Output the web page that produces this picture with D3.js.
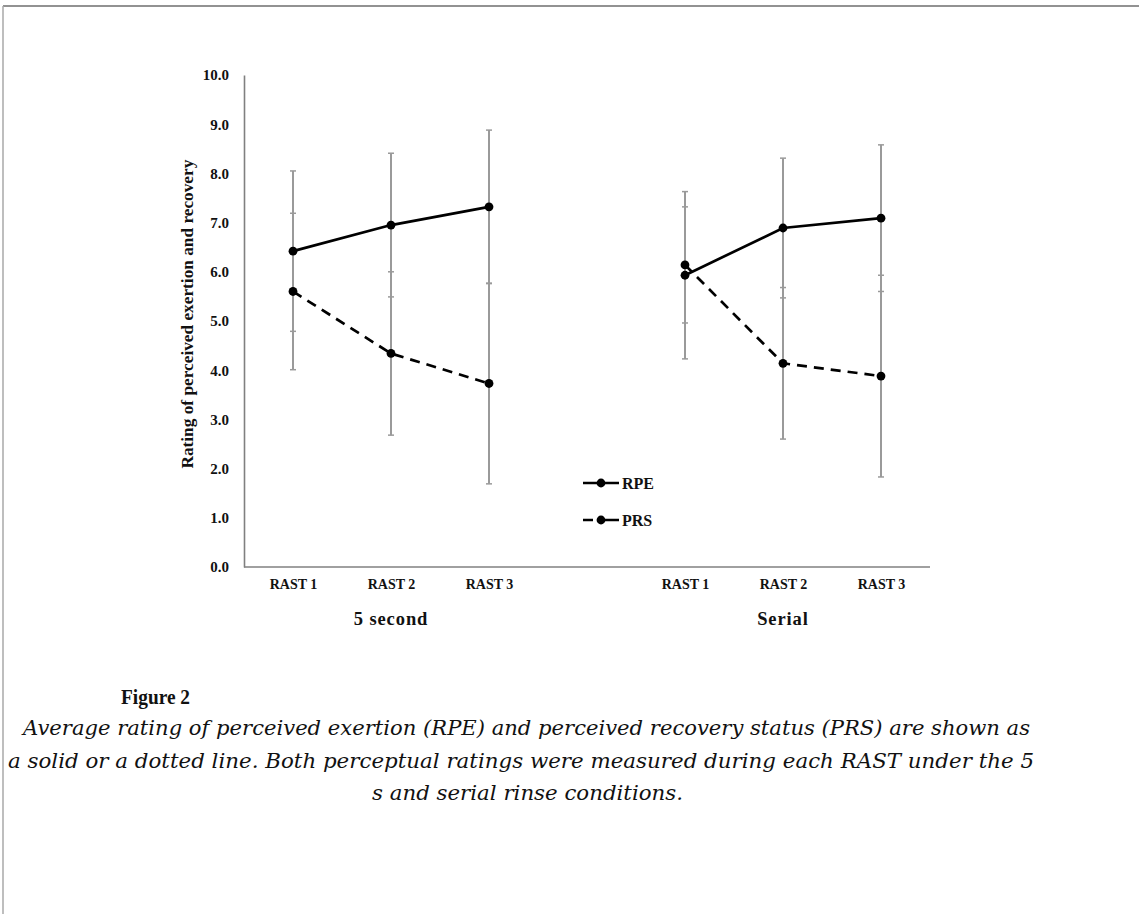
<!DOCTYPE html>
<html>
<head>
<meta charset="utf-8">
<script src="https://cdn.jsdelivr.net/npm/d3@7"></script>
<style>
  body { margin: 0; background: #fff; }
  svg { display: block; }
  .lbl { font-family: "Liberation Serif", "Times New Roman", serif; font-weight: bold; fill: #111; }
</style>
</head>
<body>
<script>
// conditions and trials
var groups = ["5 second", "Serial"];
var trials = ["RAST 1", "RAST 2", "RAST 3"];
var yTicks = [0, 1, 2, 3, 4, 5, 6, 7, 8, 9, 10];

// means and SDs, order: 5 second R1-R3, Serial R1-R3
var rpeMean = [6.42, 6.95, 7.32, 5.93, 6.89, 7.09];
var rpeSd   = [1.63, 1.46, 1.56, 1.70, 1.42, 1.49];
var prsMean = [5.60, 4.34, 3.73, 6.14, 4.14, 3.88];
var prsSd   = [1.59, 1.66, 2.04, 1.18, 1.54, 2.05];

var W = 1139, H = 914;
var margin = {top: 75, left: 244, right: 209, bottom: 347};

var svg = d3.select("body").append("svg")
    .attr("width", W)
    .attr("height", H);

// page frame
svg.append("line").attr("x1", 3).attr("x2", W).attr("y1", 6).attr("y2", 6)
    .attr("stroke", "#6e6e6e").attr("stroke-width", 1.5);
svg.append("line").attr("x1", 3).attr("x2", 3).attr("y1", 6).attr("y2", H)
    .attr("stroke", "#a8a8a8").attr("stroke-width", 1.5);

// slot keys, with an empty slot between the two conditions
var slots = [];
groups.forEach(function(g, gi) {
  trials.forEach(function(t) { slots.push(g + "|" + t); });
  if (gi < groups.length - 1) slots.push("gap");
});

var x = d3.scalePoint()
    .domain(slots)
    .range([margin.left, W - margin.right])
    .padding(0.5);

var y = d3.scaleLinear()
    .domain([0, 10])
    .range([H - margin.bottom, margin.top]);

var keys = [];
groups.forEach(function(g) { trials.forEach(function(t) { keys.push(g + "|" + t); }); });

function rows(mean, sd) {
  return keys.map(function(k, i) { return {key: k, m: mean[i], sd: sd[i]}; });
}
var series = [
  {name: "RPE", data: rows(rpeMean, rpeSd), dash: null, legDash: null},
  {name: "PRS", data: rows(prsMean, prsSd), dash: "10,7", legDash: "10,6,30"}
];

// axes
var yAxis = svg.append("g")
    .attr("transform", "translate(" + margin.left + ",0)")
    .call(d3.axisLeft(y).tickValues(yTicks).tickFormat(d3.format(".1f")).tickSize(0).tickPadding(15));
yAxis.select(".domain").attr("stroke", "#808080").attr("stroke-width", 1.6);
yAxis.selectAll("text").attr("class", "lbl").style("font-size", "15px");

var xAxis = svg.append("g")
    .attr("transform", "translate(0," + y(0) + ")")
    .call(d3.axisBottom(x).tickSize(0).tickPadding(12)
      .tickFormat(function(d) { return d === "gap" ? "" : d.split("|")[1]; }));
xAxis.select(".domain").attr("stroke", "#808080").attr("stroke-width", 1.6)
    .attr("d", "M" + margin.left + ",0H" + (W - margin.right));
xAxis.selectAll("text").attr("class", "lbl").style("font-size", "14px");

// group labels under the middle trial
groups.forEach(function(g) {
  svg.append("text").attr("class", "lbl")
      .attr("x", x(g + "|" + trials[1]))
      .attr("y", 625)
      .attr("text-anchor", "middle")
      .style("font-size", "18.5px")
      .style("letter-spacing", "0.9px")
      .text(g);
});

// y title
svg.append("text").attr("class", "lbl")
    .attr("transform", "translate(193," + y(5.14) + ") rotate(-90)")
    .attr("text-anchor", "middle")
    .style("font-size", "17.3px")
    .text("Rating of perceived exertion and recovery");

// error bars
series.forEach(function(s) {
  var eb = svg.append("g").attr("stroke", "#9a9a9a").attr("stroke-width", 2);
  s.data.forEach(function(d) {
    var cx = x(d.key);
    eb.append("line").attr("x1", cx).attr("x2", cx)
        .attr("y1", y(d.m - d.sd)).attr("y2", y(d.m + d.sd));
    [d.m - d.sd, d.m + d.sd].forEach(function(v) {
      eb.append("line").attr("x1", cx - 3).attr("x2", cx + 3)
          .attr("y1", y(v)).attr("y2", y(v)).attr("stroke-width", 1.5);
    });
  });
});

// lines and markers, one path per condition
var line = d3.line().x(function(d) { return x(d.key); }).y(function(d) { return y(d.m); });
series.forEach(function(s) {
  groups.forEach(function(g) {
    var part = s.data.filter(function(d) { return d.key.indexOf(g + "|") === 0; });
    svg.append("path").datum(part)
        .attr("d", line)
        .attr("fill", "none")
        .attr("stroke", "#000")
        .attr("stroke-width", 2.7)
        .attr("stroke-dasharray", s.dash);
  });
  svg.append("g").selectAll("circle").data(s.data).enter().append("circle")
      .attr("cx", function(d) { return x(d.key); })
      .attr("cy", function(d) { return y(d.m); })
      .attr("r", 4.4)
      .attr("fill", "#000");
});

// legend
var leg = svg.append("g").attr("transform", "translate(583,483)");
series.forEach(function(s, i) {
  var row = leg.append("g").attr("transform", "translate(0," + (i * 37) + ")");
  row.append("line").attr("x1", 0).attr("x2", 36).attr("y1", 0).attr("y2", 0)
      .attr("stroke", "#000").attr("stroke-width", 2.7)
      .attr("stroke-dasharray", s.legDash);
  row.append("circle").attr("cx", 18).attr("cy", 0).attr("r", 4.4).attr("fill", "#000");
  row.append("text").attr("class", "lbl").attr("x", 39).attr("y", 5.5)
      .style("font-size", "16px").text(s.name);
});

// caption
svg.append("text")
    .attr("x", 121).attr("y", 704)
    .style("font-family", "'Liberation Serif', serif")
    .style("font-weight", "bold")
    .style("font-size", "20px")
    .style("fill", "#111")
    .attr("textLength", 69).attr("lengthAdjust", "spacingAndGlyphs")
    .text("Figure 2");

var caption = [
  {t: "Average rating of perceived exertion (RPE) and perceived recovery status (PRS) are shown as", x0: 23, x1: 1030},
  {t: "a solid or a dotted line. Both perceptual ratings were measured during each RAST under the 5", x0: 8, x1: 1034},
  {t: "s and serial rinse conditions.", x0: 372, x1: 683}
];
caption.forEach(function(c, i) {
  svg.append("text")
      .attr("x", c.x0).attr("y", 735 + i * 32.5)
      .style("font-family", "'DejaVu Serif', serif")
      .style("font-style", "italic")
      .style("font-size", "19.5px")
      .style("fill", "#111")
      .attr("textLength", c.x1 - c.x0).attr("lengthAdjust", "spacingAndGlyphs")
      .text(c.t);
});
</script>
</body>
</html>
